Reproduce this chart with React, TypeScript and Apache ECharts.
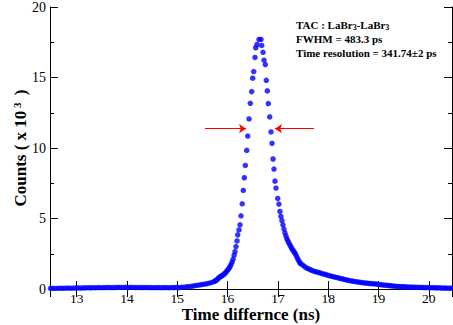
import React, { useEffect, useRef } from "react";
import * as echarts from "echarts";

// [time (ns), counts (x10^3)]
const leftTail: [number, number][] = [
  [12.48, 0.04], [12.53, 0.05], [12.58, 0.04], [12.63, 0.05], [12.68, 0.06], [12.73, 0.05], [12.78, 0.06],
  [12.83, 0.07], [12.88, 0.06], [12.93, 0.07], [12.98, 0.07], [13.03, 0.08], [13.08, 0.07], [13.13, 0.08],
  [13.18, 0.08], [13.23, 0.09], [13.28, 0.08], [13.33, 0.09], [13.38, 0.09], [13.43, 0.1], [13.48, 0.09],
  [13.53, 0.1], [13.58, 0.1], [13.63, 0.11], [13.68, 0.1], [13.73, 0.1], [13.78, 0.11], [13.83, 0.12],
  [13.88, 0.11], [13.93, 0.11], [13.98, 0.12], [14.03, 0.11], [14.08, 0.12], [14.13, 0.11], [14.18, 0.1],
  [14.23, 0.11], [14.28, 0.1], [14.33, 0.1], [14.38, 0.11], [14.43, 0.1], [14.48, 0.1], [14.53, 0.09],
  [14.58, 0.1], [14.63, 0.1], [14.68, 0.09], [14.73, 0.1], [14.78, 0.1], [14.83, 0.09], [14.88, 0.1],
  [14.93, 0.1], [14.98, 0.11], [15.03, 0.1], [15.08, 0.12], [15.13, 0.13], [15.18, 0.15], [15.23, 0.17],
  [15.28, 0.19], [15.33, 0.22], [15.38, 0.25], [15.43, 0.28], [15.48, 0.31], [15.53, 0.34], [15.58, 0.37],
  [15.63, 0.41], [15.68, 0.46], [15.73, 0.53],
];

const leftFlank: [number, number][] = [
  [15.75, 0.57], [15.77, 0.6], [15.79, 0.66], [15.81, 0.74], [15.83, 0.8], [15.85, 0.86], [15.87, 0.9],
  [15.89, 0.95], [15.91, 1.0], [15.93, 1.06], [15.95, 1.12], [15.97, 1.2], [15.99, 1.3], [16.01, 1.38],
  [16.03, 1.48], [16.05, 1.6], [16.07, 1.75], [16.09, 1.92], [16.11, 2.12], [16.13, 2.4], [16.147, 2.65],
  [16.167, 3.01], [16.187, 3.41], [16.201, 3.84], [16.227, 4.19], [16.247, 4.55], [16.266, 5.19],
  [16.29, 6.04], [16.312, 6.99], [16.332, 7.89], [16.352, 8.76], [16.38, 9.83], [16.4, 10.85],
  [16.426, 12.06], [16.451, 13.17], [16.479, 14.0], [16.499, 14.95], [16.519, 15.42], [16.545, 16.42],
  [16.559, 17.11], [16.585, 17.34],
];

const peak: [number, number][] = [
  [16.624, 17.7], [16.664, 17.7],
];

const rightFlank: [number, number][] = [
  [16.678, 17.27], [16.704, 16.79], [16.724, 16.23], [16.75, 15.92], [16.769, 14.8], [16.789, 14.05],
  [16.809, 13.15], [16.837, 12.2], [16.863, 11.14], [16.883, 10.33], [16.903, 9.22], [16.922, 8.51],
  [16.942, 7.65], [16.962, 7.16], [16.996, 6.42], [17.02, 6.02], [17.04, 5.5], [17.06, 5.15], [17.08, 4.85],
  [17.1, 4.55], [17.12, 4.25], [17.14, 3.98], [17.16, 3.75], [17.18, 3.56], [17.2, 3.4], [17.22, 3.25],
  [17.24, 3.12], [17.26, 2.98], [17.28, 2.85], [17.3, 2.75], [17.32, 2.64], [17.34, 2.54], [17.36, 2.4],
  [17.38, 2.25], [17.4, 2.1], [17.42, 1.96], [17.44, 1.84],
];

const rightTail: [number, number][] = [
  [17.46, 1.78], [17.5, 1.68], [17.54, 1.56], [17.58, 1.47], [17.62, 1.41], [17.66, 1.34], [17.7, 1.28],
  [17.74, 1.24], [17.78, 1.2], [17.82, 1.16], [17.86, 1.11], [17.9, 1.07], [17.94, 1.03], [17.98, 0.99],
  [18.02, 0.95], [18.06, 0.91], [18.1, 0.87], [18.14, 0.84], [18.18, 0.8], [18.22, 0.77], [18.26, 0.73],
  [18.3, 0.7], [18.34, 0.66], [18.38, 0.63], [18.42, 0.6], [18.46, 0.57], [18.5, 0.55], [18.54, 0.52],
  [18.58, 0.5], [18.62, 0.48], [18.66, 0.46], [18.7, 0.44], [18.74, 0.42], [18.78, 0.41], [18.82, 0.39],
  [18.86, 0.38], [18.9, 0.37], [18.94, 0.36], [18.98, 0.34], [19.02, 0.32], [19.06, 0.3], [19.1, 0.28],
  [19.14, 0.27], [19.18, 0.25], [19.22, 0.24], [19.26, 0.22], [19.3, 0.21], [19.34, 0.19], [19.38, 0.18],
  [19.42, 0.17], [19.46, 0.16], [19.5, 0.16], [19.54, 0.15], [19.58, 0.14], [19.62, 0.14], [19.66, 0.13],
  [19.7, 0.13], [19.74, 0.12], [19.78, 0.12], [19.82, 0.11], [19.86, 0.11], [19.9, 0.1], [19.94, 0.1],
  [19.98, 0.1], [20.02, 0.09], [20.06, 0.09], [20.1, 0.09], [20.14, 0.08], [20.18, 0.08], [20.22, 0.08],
  [20.26, 0.07], [20.3, 0.07], [20.34, 0.07], [20.38, 0.06], [20.42, 0.06], [20.46, 0.06],
];

const fwhmArrows: [number, number][][] = [
  [[15.551, 11.37], [16.366, 11.37]],
  [[17.717, 11.37], [16.942, 11.37]],
];

const xRange = [12.47, 20.46];
const yTicks = [0, 5, 10, 15, 20];

const SERIF = "'Liberation Serif', 'Times New Roman', serif";

export default function App() {
  const ref = useRef<HTMLDivElement>(null);
  useEffect(() => {
    if (!ref.current) return;
    const chart = echarts.init(ref.current, null, { renderer: "svg" });
    const axisLine = { show: true, lineStyle: { color: "#000", width: 1 } };
    const points = [...leftTail, ...leftFlank, ...peak, ...rightFlank, ...rightTail];
    chart.setOption({
      animation: false,
      backgroundColor: "#fff",
      grid: { left: 50, right: 1, top: 7, bottom: 36, containLabel: false, outerBoundsMode: "none" },
      xAxis: [
        {
          type: "value",
          min: xRange[0],
          max: xRange[1],
          minInterval: 1,
          maxInterval: 1,
          position: "bottom",
          axisLine,
          axisTick: { inside: true, length: 8, lineStyle: { color: "#000" } },
          axisLabel: {
            color: "#000",
            fontFamily: SERIF,
            fontSize: 13.5,
            margin: 3,
            lineHeight: 13,
            showMinLabel: false,
            showMaxLabel: false,
            formatter: (v: number) => (Math.abs(v - Math.round(v)) < 1e-6 ? String(Math.round(v)) : ""),
          },
          splitLine: { show: false },
          name: "Time differnce (ns)",
          nameLocation: "middle",
          nameGap: 25.5,
          nameMoveOverlap: false,
          nameTextStyle: { color: "#000", fontFamily: SERIF, fontSize: 17, fontWeight: "bold", verticalAlign: "middle", lineHeight: 15 },
        },
        {
          type: "value",
          min: xRange[0],
          max: xRange[1],
          minInterval: 1,
          maxInterval: 1,
          position: "top",
          axisLine,
          axisTick: { inside: true, length: 8, lineStyle: { color: "#000" } },
          axisLabel: { show: false },
          splitLine: { show: false },
        },
      ],
      yAxis: [
        {
          type: "value",
          min: yTicks[0],
          max: yTicks[yTicks.length - 1],
          interval: 5,
          position: "left",
          axisLine,
          axisTick: { inside: true, length: 8, lineStyle: { color: "#000" } },
          minorTick: { show: true, splitNumber: 2, length: 4, lineStyle: { color: "#000" } },
          axisLabel: { color: "#000", fontFamily: SERIF, fontSize: 14, margin: 4 },
          splitLine: { show: false },
          name: "{a|Counts ( x 10}{sup| 3}{a| )}",
          nameLocation: "middle",
          nameGap: 20,
          nameMoveOverlap: false,
          nameTextStyle: {
            color: "#000",
            fontFamily: SERIF,
            fontSize: 17,
            fontWeight: "bold",
            rich: {
              a: { color: "#000", fontFamily: SERIF, fontSize: 17, fontWeight: "bold" },
              sup: { color: "#000", fontFamily: SERIF, fontSize: 11, fontWeight: "bold", verticalAlign: "top", padding: [0, 3, 8, 0] },
            },
          },
        },
        {
          type: "value",
          min: yTicks[0],
          max: yTicks[yTicks.length - 1],
          interval: 5,
          position: "right",
          axisLine,
          axisTick: { inside: true, length: 8, lineStyle: { color: "#000" } },
          minorTick: { show: true, splitNumber: 2, length: 4, lineStyle: { color: "#000" } },
          axisLabel: { show: false },
          splitLine: { show: false },
        },
      ],
      graphic: [
        {
          type: "group",
          left: 296,
          top: 18,
          children: [
            {
              type: "text",
              x: 0,
              y: 0,
              style: {
                text: "{b|TAC : LaBr}{s|3}{b|-LaBr}{s|3}",
                rich: {
                  b: { fontFamily: SERIF, fontSize: 11, fontWeight: "bold", fill: "#000", lineHeight: 12 },
                  s: { fontFamily: SERIF, fontSize: 8, fontWeight: "bold", fill: "#000", lineHeight: 8, padding: [5, 0, 0, 0] },
                },
              },
            },
            {
              type: "text",
              x: 0,
              y: 15,
              style: { text: "FWHM = 483.3 ps", fontFamily: SERIF, fontSize: 11, fontWeight: "bold", fill: "#000" },
            },
            {
              type: "text",
              x: 0,
              y: 29,
              style: { text: "Time resolution = 341.74±2 ps", fontFamily: SERIF, fontSize: 11, fontWeight: "bold", fill: "#000" },
            },
          ],
        },
      ],
      series: [
        {
          type: "scatter",
          xAxisIndex: 0,
          yAxisIndex: 0,
          data: points,
          symbol: "circle",
          symbolSize: 5.5,
          itemStyle: { color: "#0000ff" },
          clip: false,
        },
        {
          type: "lines",
          coordinateSystem: "cartesian2d",
          xAxisIndex: 0,
          yAxisIndex: 0,
          data: fwhmArrows.map((c) => ({ coords: c })),
          symbol: ["none", "arrow"],
          symbolSize: 7,
          lineStyle: { color: "#ff0000", width: 1, opacity: 1 },
          z: 3,
        },
      ],
    });
    return () => chart.dispose();
  }, []);
  return <div ref={ref} style={{ position: "absolute", left: 0, top: 0, width: 453, height: 325 }} />;
}
